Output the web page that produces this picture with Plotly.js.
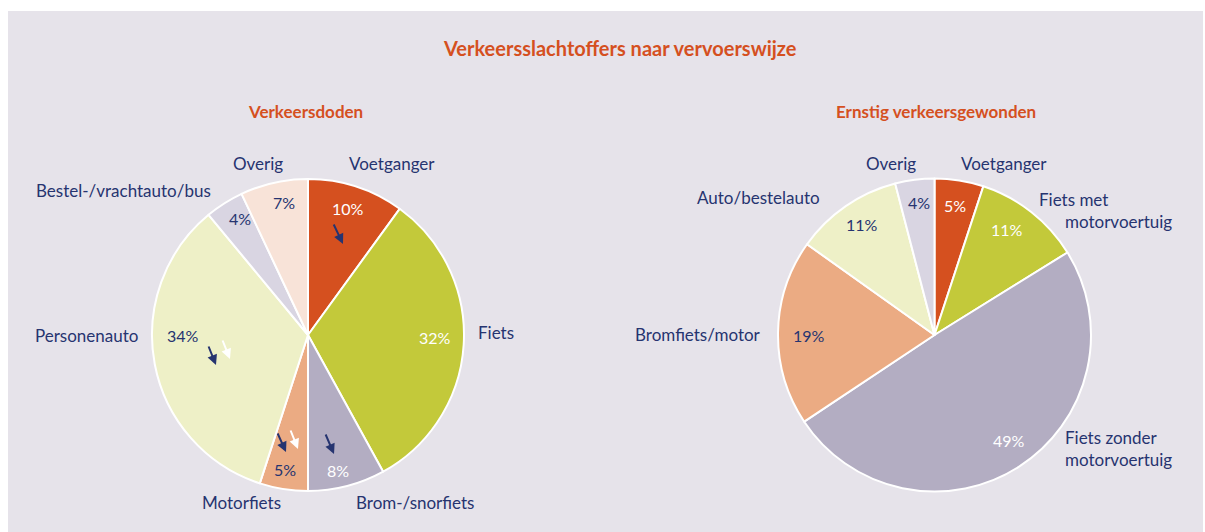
<!DOCTYPE html>
<html>
<head>
<meta charset="utf-8">
<script src="https://cdn.plot.ly/plotly-3.0.1.min.js"></script>
<style>html,body{margin:0;padding:0;background:#fff;}#chart{width:1205px;height:532px;}</style>
</head>
<body>
<div id="chart"></div>
<script>
// ---- data ----
const dodenLabels = ["Voetganger", "Fiets", "Brom-/snorfiets", "Motorfiets", "Personenauto", "Bestel-/vrachtauto/bus", "Overig"];
const dodenValues = [10, 32, 8, 5, 34, 4, 7];
const gewondenLabels = ["Voetganger", "Fiets met motorvoertuig", "Fiets zonder motorvoertuig", "Bromfiets/motor", "Auto/bestelauto", "Overig"];
const gewondenValues = [5, 11, 49, 19, 11, 4];
const mainTitle = "Verkeersslachtoffers naar vervoerswijze";
const subTitles = ["Verkeersdoden", "Ernstig verkeersgewonden"];

// ---- styles ----
const W = 1205, H = 532;
const navy = "#263470";
const orange = "#d5501f";
const font = "Lato, 'Open Sans', sans-serif";
const dodenColors = ["#d5501f", "#c3c93a", "#b3adc2", "#ebab83", "#eef0c7", "#d9d5e2", "#f8e3d8"];
const gewondenColors = ["#d5501f", "#c3c93a", "#b3adc2", "#ebab83", "#eef0c7", "#d9d5e2"];
const dodenPctColors = ["#fff", "#fff", "#fff", navy, navy, navy, navy];
const gewondenPctColors = ["#fff", "#fff", "#fff", navy, navy, navy];

// label layout (pixel positions of texts)
const dodenLabelPos = [[392,163,'center'],[476,332,'left'],[415,502,'center'],[241,502,'center'],[140,335,'right'],[213,190,'right'],[258,163,'center']];
const dodenPctPos = [[348,208],[435,337],[338,470],[285,469],[183,335],[240,219],[284,203]];
const gewondenLabelPos = [[1004,163,'center'],[1037,210,'left'],[1063,448,'left'],[763,334,'right'],[822,197,'right'],[891,163,'center']];
const gewondenPctPos = [[955,205],[1007,229],[1009,440],[809,335],[862,224],[919,202]];

function px(x){return x/W;}
function py(y){return 1 - y/H;}

const data = [
  {
    type: "pie", labels: dodenLabels, values: dodenValues, sort: false, direction: "clockwise", rotation: 0,
    marker: {colors: dodenColors, line: {color: "#ffffff", width: 2}},
    textinfo: "none", hoverinfo: "label+percent", showlegend: false,
    domain: {x: [px(152), px(464)], y: [py(491), py(179)]}
  },
  {
    type: "pie", labels: gewondenLabels, values: gewondenValues, sort: false, direction: "clockwise", rotation: 0,
    marker: {colors: gewondenColors, line: {color: "#ffffff", width: 2}},
    textinfo: "none", hoverinfo: "label+percent", showlegend: false,
    domain: {x: [px(778), px(1091)], y: [py(492), py(178)]}
  }
];

const ann = [];
function txt(x, y, text, opts) {
  ann.push(Object.assign({xref: "paper", yref: "paper", x: px(x), y: py(y), text: text, showarrow: false,
    xanchor: "center", yanchor: "middle", font: {family: font, size: 17, color: navy}}, opts || {}));
}
// titles
txt(620, 48, "<b>" + mainTitle + "</b>", {font: {family: font, size: 20, color: orange}});
txt(305, 111, "<b>" + subTitles[0] + "</b>", {font: {family: font, size: 17, color: orange}});
txt(936, 111, "<b>" + subTitles[1] + "</b>", {font: {family: font, size: 17, color: orange}});

// category labels
dodenLabels.forEach((l, i) => { const p = dodenLabelPos[i]; txt(p[0], p[1], l, {xanchor: p[2]}); });
gewondenLabels.forEach((l, i) => {
  const p = gewondenLabelPos[i];
  let t = l;
  if (i === 1) { txt(p[0], 199, "Fiets met", {xanchor: "left"}); txt(p[0] + 26, 221, "motorvoertuig", {xanchor: "left"}); return; }
  if (i === 2) t = "Fiets zonder<br>motorvoertuig";
  txt(p[0], p[1], t, {xanchor: p[2], align: "left"});
});
// percentages
dodenValues.forEach((v, i) => { const p = dodenPctPos[i]; txt(p[0], p[1], v + "%", {font: {family: font, size: 16, color: dodenPctColors[i]}}); });
gewondenValues.forEach((v, i) => { const p = gewondenPctPos[i]; txt(p[0], p[1], v + "%", {font: {family: font, size: 16, color: gewondenPctColors[i]}}); });

// trend arrows (head position, tail offset)
const arrows = [[343,244,-10,-21,navy],[216,365,-8,-20,navy],[230,359,-8,-20,"#ffffff"],[286,452,-9,-20,navy],[298,449,-8,-20,"#ffffff"],[334,454,-9,-21,navy]];
arrows.forEach(a => ann.push({xref: "paper", yref: "paper", x: px(a[0]), y: py(a[1]), ax: a[2], ay: a[3], text: "",
  showarrow: true, arrowhead: 2, arrowsize: 1, arrowwidth: 2, arrowcolor: a[4]}));

const layout = {
  width: W, height: H, margin: {l: 0, r: 0, t: 0, b: 0},
  paper_bgcolor: "#ffffff",
  shapes: [{type: "rect", xref: "paper", yref: "paper", x0: px(8), x1: px(1203), y0: 0, y1: py(11), fillcolor: "#e6e3ea", line: {width: 0}, layer: "below"}],
  annotations: ann
};
Plotly.newPlot("chart", data, layout, {displayModeBar: false, staticPlot: true});
</script>
</body>
</html>
